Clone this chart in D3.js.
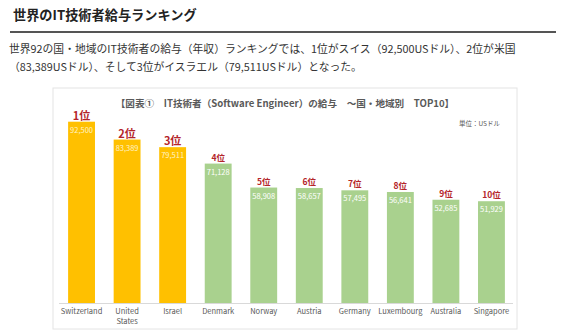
<!DOCTYPE html>
<html>
<head>
<meta charset="utf-8">
<script src="https://cdn.jsdelivr.net/npm/d3@7"></script>
<style>
  body { margin: 0; background: #fff; }
  svg { display: block; }
</style>
</head>
<body>
<svg id="chart" width="566" height="331"></svg>
<script>
// data
const countries = ['Switzerland', 'United States', 'Israel', 'Denmark', 'Norway',
  'Austria', 'Germany', 'Luxembourg', 'Australia', 'Singapore']
const salaries = [92500, 83389, 79511, 71128, 58908, 58657, 57495, 56641, 52685, 51929]
const ranks = ['1位', '2位', '3位', '4位', '5位', '6位', '7位', '8位', '9位', '10位']

const pageTitle = '世界のIT技術者給与ランキング'
const introLines = [
  '世界92の国・地域のIT技術者の給与（年収）ランキングでは、1位がスイス（92,500USドル）、2位が米国',
  '（83,389USドル）、そして3位がイスラエル（79,511USドル）となった。'
]
const chartTitle = '【図表①　IT技術者（Software Engineer）の給与　～国・地域別　TOP10】'
const unitLabel = '単位：USドル'

const svg = d3.select('#chart')
const jp = '"Noto Sans CJK JP", "Noto Sans", sans-serif'

// page header
svg.append('text')
  .attr('x', 13).attr('y', 20)
  .style('font-family', jp).style('font-size', '13.2px').style('font-weight', 'bold')
  .attr('fill', '#222')
  .text(pageTitle)
svg.append('line')
  .attr('x1', 10).attr('x2', 556).attr('y1', 32).attr('y2', 32)
  .attr('stroke', '#555').attr('stroke-width', 2)
svg.selectAll('.intro')
  .data(introLines)
  .enter().append('text')
  .attr('class', 'intro')
  .attr('x', 9).attr('y', (d, i) => 53 + i * 18)
  .style('font-family', jp).style('font-size', '10.8px')
  .attr('fill', '#333')
  .text(d => d)

// chart frame
const box = { x: 53, y: 88, w: 464, h: 241 }
svg.append('rect')
  .attr('x', box.x).attr('y', box.y).attr('width', box.w).attr('height', box.h)
  .attr('fill', '#fff').attr('stroke', '#e4e4e4')

svg.append('text')
  .attr('x', 285).attr('y', 107)
  .attr('text-anchor', 'middle')
  .style('font-family', jp).style('font-size', '9.6px').style('font-weight', 'bold')
  .attr('fill', '#595959')
  .text(chartTitle)
svg.append('text')
  .attr('x', 500).attr('y', 126)
  .attr('text-anchor', 'end')
  .style('font-family', jp).style('font-size', '6.5px')
  .attr('fill', '#595959')
  .text(unitLabel)

// scales
const x = d3.scaleBand()
  .domain(countries)
  .range([59, 514])
  .paddingInner(0.41)
  .paddingOuter(0.2)
const y = d3.scaleLinear()
  .domain([0, 92500])
  .range([303, 121.7])

const data = countries.map((c, i) => ({ country: c, salary: salaries[i], rank: ranks[i], i: i }))
const fill = d => d.i < 3 ? '#ffc000' : '#a9d18e'

// baseline
svg.append('line')
  .attr('x1', 59).attr('x2', 513).attr('y1', 303.5).attr('y2', 303.5)
  .attr('stroke', '#d9d9d9')

svg.selectAll('.bar')
  .data(data)
  .enter().append('rect')
  .attr('class', 'bar')
  .attr('x', d => x(d.country))
  .attr('width', x.bandwidth())
  .attr('y', d => y(d.salary))
  .attr('height', d => y(0) - y(d.salary))
  .attr('fill', fill)

// value labels inside the bar tops
svg.selectAll('.val')
  .data(data)
  .enter().append('text')
  .attr('class', 'val')
  .attr('x', d => x(d.country) + x.bandwidth() / 2)
  .attr('y', d => y(d.salary) + 11)
  .attr('text-anchor', 'middle')
  .style('font-family', jp).style('font-size', '7.5px')
  .attr('fill', d => d.i < 3 ? '#fff3c8' : '#fff')
  .text(d => d3.format(',')(d.salary))

// rank labels above the bars
svg.selectAll('.rank')
  .data(data)
  .enter().append('text')
  .attr('class', 'rank')
  .attr('x', d => x(d.country) + x.bandwidth() / 2)
  .attr('y', d => y(d.salary) - (d.i < 3 ? 2 : 3))
  .attr('text-anchor', 'middle')
  .style('font-family', jp)
  .style('font-size', d => d.i < 3 ? '11px' : '8.5px')
  .style('font-weight', 'bold')
  .attr('fill', '#b4252a')
  .text(d => d.rank)

// category labels, wrapped on spaces
svg.selectAll('.cat')
  .data(data)
  .enter().append('text')
  .attr('class', 'cat')
  .attr('x', d => x(d.country) + x.bandwidth() / 2)
  .attr('y', 314)
  .attr('text-anchor', 'middle')
  .style('font-family', jp).style('font-size', '7.5px')
  .attr('fill', '#595959')
  .each(function (d) {
    const words = d.country.split(' ')
    d3.select(this).selectAll('tspan')
      .data(words)
      .enter().append('tspan')
      .attr('x', x(d.country) + x.bandwidth() / 2)
      .attr('dy', (w, j) => j === 0 ? 0 : 10)
      .text(w => w)
  })
</script>
</body>
</html>
